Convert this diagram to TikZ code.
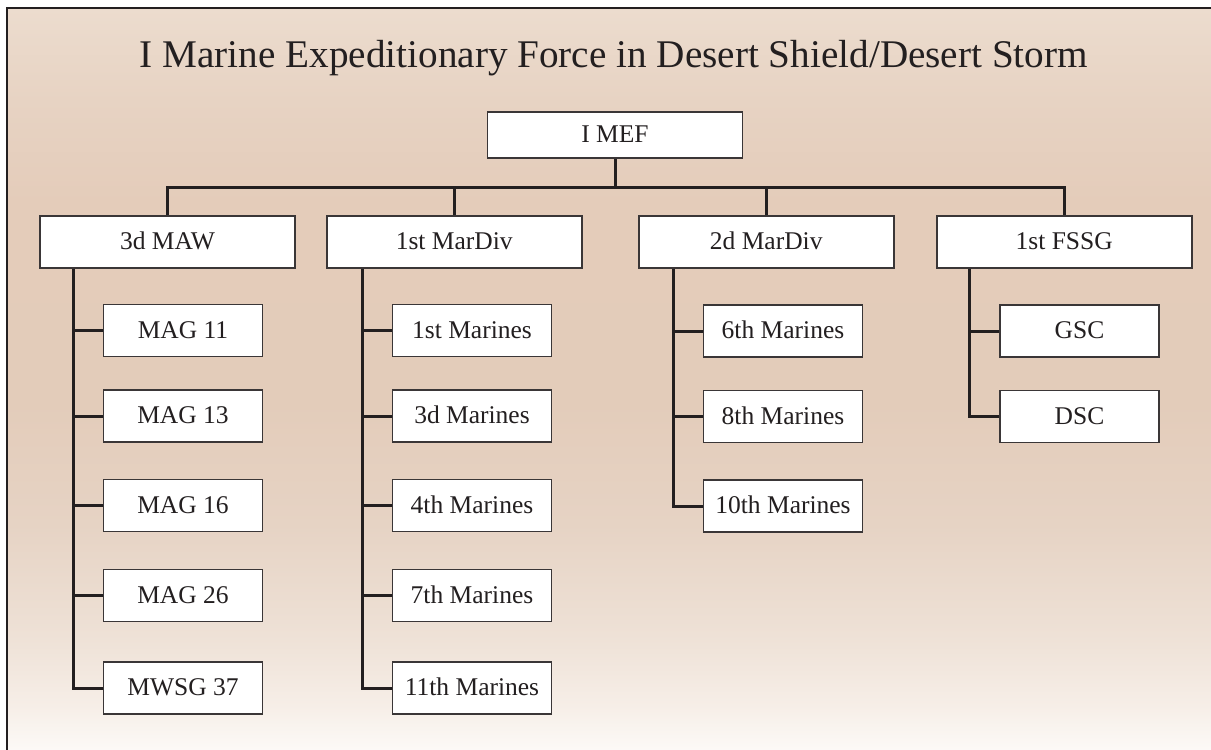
\documentclass[tikz,border=0pt]{standalone}
\usepackage{fontspec}
\setmainfont{Liberation Serif}

\definecolor{ink}{HTML}{231F20}
\definecolor{boxline}{HTML}{3A3637}
\definecolor{sandA}{HTML}{FDFBF9}
\definecolor{sandB}{HTML}{F6EEE7}
\definecolor{sandC}{HTML}{EEE1D6}
\definecolor{sandD}{HTML}{E6D3C4}
\definecolor{sandE}{HTML}{E3CCBA}
\definecolor{sandF}{HTML}{E4CCBA}
\definecolor{sandG}{HTML}{E7D3C3}
\definecolor{sandH}{HTML}{ECDCCE}
\pgfdeclareverticalshading{desert}{100bp}{color(0bp)=(sandA); color(25bp)=(sandA);
  color(28.4bp)=(sandB); color(33.1bp)=(sandC); color(40.5bp)=(sandD);
  color(48.6bp)=(sandE); color(62bp)=(sandF); color(68.8bp)=(sandG);
  color(75bp)=(sandH); color(100bp)=(sandH)}

\begin{document}
\begin{tikzpicture}[x=1pt, y=-1pt,
    command/.style ={rectangle, draw=boxline, line width=1.6pt, fill=white, inner sep=0pt,
      minimum width=255pt, minimum height=52pt, text=ink,
      font=\fontsize{25.5}{30}\selectfont, text height=17pt, text depth=2pt},
    unit/.style ={command, minimum width=159pt},
    link/.style ={draw=ink, line width=3pt}]
   \useasboundingbox (0,0) rectangle (1211,750);
   \fill[white] (-6,-6) rectangle (1217,756);
   \shade[shading=desert] (7,8) rectangle (1217,756);
   \draw[ink, line width=2.2pt] (7,756) -- (7,8) -- (1217,8);

   \node[text=ink, inner sep=0pt, anchor=base, font=\fontsize{39.2}{46}\selectfont] (title) at (613.8,67.5)
     {I Marine Expeditionary Force in Desert Shield/Desert Storm};

   \node[command, minimum height=46pt] (mef) at (615,135) {I MEF};
   \coordinate (bar) at (615,187);

   \node[command] (maw)     at (167.5,242) {3d MAW};
   \node[command] (mardiv1) at (454.2,242) {1st MarDiv};
   \node[command] (mardiv2) at (766.2,242) {2d MarDiv};
   \node[command] (fssg)    at (1064.2,242) {1st FSSG};

   \node[unit] (mag11) at (183,330.5) {MAG 11};
   \node[unit] (mag13) at (183,416)   {MAG 13};
   \node[unit] (mag16) at (183,505.5) {MAG 16};
   \node[unit] (mag26) at (183,595.5) {MAG 26};
   \node[unit] (mwsg)  at (183,688)   {MWSG 37};

   \node[unit] (mar1)  at (472,330.5) {1st Marines};
   \node[unit] (mar3)  at (472,416)   {3d Marines};
   \node[unit] (mar4)  at (472,505.5) {4th Marines};
   \node[unit] (mar7)  at (472,595.5) {7th Marines};
   \node[unit] (mar11) at (472,688)   {11th Marines};

   \node[unit] (mar6)  at (783,331)   {6th Marines};
   \node[unit] (mar8)  at (783,416.5) {8th Marines};
   \node[unit] (mar10) at (783,506)   {10th Marines};

   \node[unit] (gsc) at (1079.5,331)   {GSC};
   \node[unit] (dsc) at (1079.5,416.5) {DSC};



   \draw[link] (mef) -- (mef |- bar);
   \draw[link] (maw) -- (maw |- bar) -- (fssg |- bar) -- (fssg);
   \draw[link] (mardiv1) -- (mardiv1 |- bar);
   \draw[link] (mardiv2) -- (mardiv2 |- bar);



   \draw[link] ([xshift=-29.5pt]mwsg.west |- maw.south) |- (mwsg);
   \draw[link] (mag11.west) -- ++(-29.5,0);
   \draw[link] (mag13.west) -- ++(-29.5,0);
   \draw[link] (mag16.west) -- ++(-29.5,0);
   \draw[link] (mag26.west) -- ++(-29.5,0);

   \draw[link] ([xshift=-29.5pt]mar11.west |- mardiv1.south) |- (mar11);
   \draw[link] (mar1.west) -- ++(-29.5,0);
   \draw[link] (mar3.west) -- ++(-29.5,0);
   \draw[link] (mar4.west) -- ++(-29.5,0);
   \draw[link] (mar7.west) -- ++(-29.5,0);

   \draw[link] ([xshift=-29.5pt]mar10.west |- mardiv2.south) |- (mar10);
   \draw[link] (mar6.west) -- ++(-29.5,0);
   \draw[link] (mar8.west) -- ++(-29.5,0);

   \draw[link] ([xshift=-29.5pt]dsc.west |- fssg.south) |- (dsc);
   \draw[link] (gsc.west) -- ++(-29.5,0);
 \end{tikzpicture}
\end{document}
